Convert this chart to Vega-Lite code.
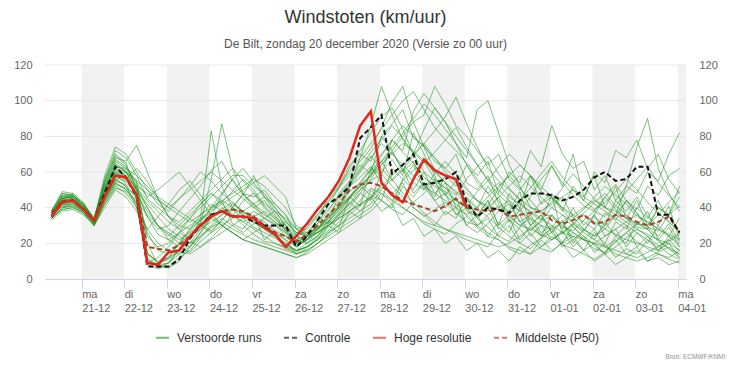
{
  "$schema": "https://vega.github.io/schema/vega-lite/v6.json",
  "width": 641,
  "height": 214,
  "autosize": {"type": "none"},
  "padding": {"left": 45, "top": 65, "right": 46, "bottom": 87},
  "background": "#ffffff",
  "config": {
    "view": {"stroke": null},
    "font": "Liberation Sans",
    "axis": {"labelFont": "Liberation Sans", "labelFontSize": 11, "labelColor": "#666666"}
  },
  "title": {
    "text": "Windstoten (km/uur)",
    "subtitle": "De Bilt, zondag 20 december 2020 (Versie zo 00 uur)",
    "anchor": "middle",
    "font": "Liberation Sans",
    "fontSize": 18,
    "fontWeight": "normal",
    "color": "#333333",
    "subtitleFont": "Liberation Sans",
    "subtitleFontSize": 12,
    "subtitleColor": "#555555",
    "subtitlePadding": 12,
    "offset": 9
  },
  "datasets": {
    "bands": [
      {"s": "2020-12-21T00:00Z", "e": "2020-12-22T00:00Z"},
      {"s": "2020-12-23T00:00Z", "e": "2020-12-24T00:00Z"},
      {"s": "2020-12-25T00:00Z", "e": "2020-12-26T00:00Z"},
      {"s": "2020-12-27T00:00Z", "e": "2020-12-28T00:00Z"},
      {"s": "2020-12-29T00:00Z", "e": "2020-12-30T00:00Z"},
      {"s": "2020-12-31T00:00Z", "e": "2021-01-01T00:00Z"},
      {"s": "2021-01-02T00:00Z", "e": "2021-01-03T00:00Z"},
      {"s": "2021-01-04T00:00Z", "e": "2021-01-05T00:00Z"}
    ],
    "grid": [{"g": 20}, {"g": 40}, {"g": 60}, {"g": 80}, {"g": 100}, {"g": 120}],
    "ens": [
      {"t":"2020-12-20T07:00Z","c":35,"h":35,"p":37,"m1":36,"m2":34,"m3":38,"m4":35,"m5":37,"m6":36,"m7":34,"m8":35,"m9":38,"m10":36,"m11":33,"m12":37,"m13":35,"m14":36,"m15":38,"m16":35,"m17":37,"m18":34,"m19":36,"m20":38,"m21":35,"m22":36,"m23":37,"m24":34,"m25":36,"m26":35,"m27":37,"m28":35,"m29":36,"m30":34},
      {"t":"2020-12-20T13:00Z","c":43,"h":43,"p":44,"m1":44,"m2":40,"m3":48,"m4":42,"m5":46,"m6":45,"m7":39,"m8":43,"m9":47,"m10":44,"m11":38,"m12":45,"m13":41,"m14":44,"m15":49,"m16":42,"m17":46,"m18":40,"m19":43,"m20":48,"m21":43,"m22":45,"m23":47,"m24":39,"m25":44,"m26":42,"m27":46,"m28":41,"m29":45,"m30":40},
      {"t":"2020-12-20T19:00Z","c":44,"h":44,"p":44,"m1":45,"m2":42,"m3":47,"m4":44,"m5":46,"m6":48,"m7":40,"m8":44,"m9":46,"m10":43,"m11":39,"m12":46,"m13":42,"m14":45,"m15":48,"m16":43,"m17":45,"m18":41,"m19":44,"m20":47,"m21":44,"m22":46,"m23":47,"m24":40,"m25":45,"m26":42,"m27":46,"m28":43,"m29":47,"m30":41},
      {"t":"2020-12-21T01:00Z","c":39,"h":39,"p":39,"m1":40,"m2":38,"m3":42,"m4":39,"m5":41,"m6":43,"m7":37,"m8":40,"m9":40,"m10":39,"m11":36,"m12":41,"m13":38,"m14":40,"m15":42,"m16":39,"m17":41,"m18":37,"m19":40,"m20":42,"m21":39,"m22":41,"m23":42,"m24":37,"m25":40,"m26":38,"m27":42,"m28":39,"m29":42,"m30":38},
      {"t":"2020-12-21T07:00Z","c":33,"h":33,"p":33,"m1":33,"m2":31,"m3":33,"m4":32,"m5":34,"m6":33,"m7":30,"m8":32,"m9":34,"m10":32,"m11":30,"m12":33,"m13":31,"m14":32,"m15":34,"m16":31,"m17":33,"m18":30,"m19":32,"m20":34,"m21":32,"m22":33,"m23":34,"m24":30,"m25":33,"m26":31,"m27":33,"m28":31,"m29":32,"m30":31},
      {"t":"2020-12-21T13:00Z","c":48,"h":46,"p":47,"m1":50,"m2":45,"m3":55,"m4":48,"m5":52,"m6":58,"m7":42,"m8":47,"m9":54,"m10":46,"m11":40,"m12":50,"m13":44,"m14":49,"m15":56,"m16":46,"m17":51,"m18":43,"m19":48,"m20":53,"m21":47,"m22":50,"m23":55,"m24":42,"m25":49,"m26":45,"m27":52,"m28":46,"m29":51,"m30":44},
      {"t":"2020-12-21T19:00Z","c":63,"h":58,"p":58,"m1":62,"m2":55,"m3":70,"m4":60,"m5":66,"m6":74,"m7":52,"m8":58,"m9":68,"m10":56,"m11":50,"m12":64,"m13":54,"m14":61,"m15":72,"m16":57,"m17":63,"m18":53,"m19":59,"m20":67,"m21":58,"m22":62,"m23":69,"m24":51,"m25":60,"m26":55,"m27":65,"m28":56,"m29":63,"m30":54},
      {"t":"2020-12-22T01:00Z","c":57,"h":57,"p":57,"m1":58,"m2":60,"m3":65,"m4":56,"m5":62,"m6":70,"m7":48,"m8":54,"m9":66,"m10":52,"m11":46,"m12":60,"m13":50,"m14":57,"m15":68,"m16":55,"m17":61,"m18":51,"m19":57,"m20":63,"m21":56,"m22":60,"m23":64,"m24":49,"m25":58,"m26":53,"m27":60,"m28":52,"m29":62,"m30":50},
      {"t":"2020-12-22T07:00Z","c":46,"h":47,"p":47,"m1":45,"m2":52,"m3":50,"m4":62,"m5":55,"m6":60,"m7":40,"m8":48,"m9":75,"m10":42,"m11":38,"m12":50,"m13":44,"m14":48,"m15":58,"m16":50,"m17":53,"m18":47,"m19":46,"m20":54,"m21":52,"m22":49,"m23":50,"m24":42,"m25":51,"m26":45,"m27":55,"m28":40,"m29":58,"m30":43},
      {"t":"2020-12-22T13:00Z","c":7,"h":9,"p":18,"m1":14,"m2":40,"m3":10,"m4":55,"m5":15,"m6":50,"m7":12,"m8":35,"m9":60,"m10":11,"m11":28,"m12":40,"m13":9,"m14":26,"m15":45,"m16":42,"m17":20,"m18":38,"m19":14,"m20":46,"m21":48,"m22":24,"m23":35,"m24":8,"m25":44,"m26":10,"m27":50,"m28":28,"m29":52,"m30":36},
      {"t":"2020-12-22T19:00Z","c":7,"h":8,"p":17,"m1":9,"m2":30,"m3":7,"m4":45,"m5":9,"m6":42,"m7":6,"m8":28,"m9":45,"m10":8,"m11":35,"m12":30,"m13":12,"m14":16,"m15":40,"m16":35,"m17":8,"m18":30,"m19":10,"m20":50,"m21":44,"m22":18,"m23":25,"m24":6,"m25":38,"m26":8,"m27":45,"m28":20,"m29":46,"m30":30},
      {"t":"2020-12-23T01:00Z","c":7,"h":15,"p":16,"m1":12,"m2":25,"m3":9,"m4":35,"m5":11,"m6":38,"m7":7,"m8":30,"m9":35,"m10":9,"m11":42,"m12":22,"m13":18,"m14":14,"m15":35,"m16":28,"m17":6,"m18":24,"m19":12,"m20":55,"m21":40,"m22":20,"m23":22,"m24":9,"m25":32,"m26":12,"m27":40,"m28":16,"m29":42,"m30":26},
      {"t":"2020-12-23T07:00Z","c":11,"h":16,"p":19,"m1":20,"m2":20,"m3":17,"m4":28,"m5":16,"m6":45,"m7":12,"m8":38,"m9":30,"m10":14,"m11":50,"m12":18,"m13":26,"m14":20,"m15":32,"m16":24,"m17":10,"m18":30,"m19":16,"m20":60,"m21":36,"m22":26,"m23":26,"m24":16,"m25":28,"m26":20,"m27":45,"m28":14,"m29":38,"m30":22},
      {"t":"2020-12-23T13:00Z","c":23,"h":24,"p":24,"m1":28,"m2":18,"m3":24,"m4":22,"m5":21,"m6":52,"m7":16,"m8":45,"m9":28,"m10":20,"m11":55,"m12":15,"m13":22,"m14":27,"m15":38,"m16":20,"m17":18,"m18":36,"m19":24,"m20":52,"m21":32,"m22":34,"m23":30,"m24":14,"m25":34,"m26":24,"m27":50,"m28":18,"m29":34,"m30":26},
      {"t":"2020-12-23T19:00Z","c":30,"h":30,"p":30,"m1":36,"m2":26,"m3":31,"m4":31,"m5":18,"m6":60,"m7":23,"m8":52,"m9":33,"m10":28,"m11":47,"m12":21,"m13":34,"m14":33,"m15":44,"m16":24,"m17":26,"m18":42,"m19":32,"m20":44,"m21":36,"m22":42,"m23":34,"m24":18,"m25":40,"m26":28,"m27":55,"m28":24,"m29":30,"m30":30},
      {"t":"2020-12-24T01:00Z","c":36,"h":35,"p":36,"m1":42,"m2":35,"m3":27,"m4":56,"m5":23,"m6":55,"m7":29,"m8":61,"m9":39,"m10":35,"m11":40,"m12":26,"m13":83,"m14":37,"m15":50,"m16":29,"m17":34,"m18":48,"m19":40,"m20":36,"m21":40,"m22":48,"m23":38,"m24":22,"m25":46,"m26":32,"m27":60,"m28":30,"m29":26,"m30":34},
      {"t":"2020-12-24T07:00Z","c":38,"h":38,"p":38,"m1":38,"m2":47,"m3":33,"m4":87,"m5":29,"m6":48,"m7":32,"m8":66,"m9":43,"m10":39,"m11":44,"m12":33,"m13":52,"m14":30,"m15":56,"m16":34,"m17":40,"m18":44,"m19":48,"m20":30,"m21":44,"m22":42,"m23":42,"m24":26,"m25":52,"m26":36,"m27":55,"m28":36,"m29":30,"m30":30},
      {"t":"2020-12-24T13:00Z","c":35,"h":35,"p":39,"m1":35,"m2":56,"m3":39,"m4":62,"m5":36,"m6":43,"m7":28,"m8":55,"m9":49,"m10":43,"m11":31,"m12":40,"m13":40,"m14":26,"m15":62,"m16":30,"m17":36,"m18":40,"m19":56,"m20":26,"m21":48,"m22":36,"m23":46,"m24":30,"m25":58,"m26":40,"m27":50,"m28":42,"m29":34,"m30":26},
      {"t":"2020-12-24T19:00Z","c":35,"h":35,"p":38,"m1":44,"m2":48,"m3":34,"m4":48,"m5":30,"m6":37,"m7":25,"m8":47,"m9":56,"m10":38,"m11":28,"m12":48,"m13":47,"m14":22,"m15":55,"m16":26,"m17":32,"m18":36,"m19":62,"m20":22,"m21":52,"m22":32,"m23":50,"m24":34,"m25":58,"m26":36,"m27":45,"m28":38,"m29":38,"m30":22},
      {"t":"2020-12-25T01:00Z","c":32,"h":34,"p":35,"m1":48,"m2":42,"m3":29,"m4":40,"m5":25,"m6":35,"m7":22,"m8":42,"m9":50,"m10":33,"m11":36,"m12":46,"m13":58,"m14":20,"m15":48,"m16":31,"m17":35,"m18":32,"m19":54,"m20":26,"m21":56,"m22":28,"m23":54,"m24":38,"m25":52,"m26":32,"m27":40,"m28":34,"m29":42,"m30":20},
      {"t":"2020-12-25T07:00Z","c":30,"h":29,"p":30,"m1":40,"m2":34,"m3":26,"m4":44,"m5":21,"m6":32,"m7":20,"m8":37,"m9":41,"m10":28,"m11":22,"m12":50,"m13":46,"m14":18,"m15":42,"m16":34,"m17":38,"m18":28,"m19":46,"m20":30,"m21":52,"m22":24,"m23":58,"m24":34,"m25":48,"m26":28,"m27":36,"m28":30,"m29":46,"m30":18},
      {"t":"2020-12-25T13:00Z","c":30,"h":25,"p":26,"m1":34,"m2":31,"m3":23,"m4":36,"m5":20,"m6":27,"m7":18,"m8":32,"m9":35,"m10":24,"m11":27,"m12":42,"m13":40,"m14":16,"m15":38,"m16":38,"m17":34,"m18":30,"m19":38,"m20":26,"m21":46,"m22":20,"m23":52,"m24":30,"m25":40,"m26":24,"m27":32,"m28":26,"m29":42,"m30":16},
      {"t":"2020-12-25T19:00Z","c":30,"h":18,"p":24,"m1":27,"m2":24,"m3":19,"m4":27,"m5":17,"m6":24,"m7":16,"m8":26,"m9":30,"m10":20,"m11":18,"m12":36,"m13":33,"m14":14,"m15":34,"m16":30,"m17":28,"m18":32,"m19":30,"m20":22,"m21":40,"m22":18,"m23":46,"m24":26,"m25":32,"m26":20,"m27":28,"m28":22,"m29":36,"m30":14},
      {"t":"2020-12-26T01:00Z","c":18,"h":24,"p":21,"m1":20,"m2":18,"m3":16,"m4":22,"m5":15,"m6":20,"m7":14,"m8":18,"m9":25,"m10":16,"m11":14,"m12":28,"m13":26,"m14":12,"m15":28,"m16":22,"m17":20,"m18":26,"m19":22,"m20":18,"m21":30,"m22":16,"m23":28,"m24":20,"m25":26,"m26":16,"m27":24,"m28":14,"m29":24,"m30":12},
      {"t":"2020-12-26T07:00Z","c":24,"h":31,"p":25,"m1":25,"m2":22,"m3":20,"m4":29,"m5":18,"m6":24,"m7":16,"m8":22,"m9":26,"m10":18,"m11":17,"m12":25,"m13":28,"m14":15,"m15":30,"m16":24,"m17":22,"m18":24,"m19":20,"m20":22,"m21":26,"m22":18,"m23":24,"m24":22,"m25":24,"m26":18,"m27":22,"m28":16,"m29":20,"m30":14},
      {"t":"2020-12-26T13:00Z","c":33,"h":39,"p":30,"m1":33,"m2":28,"m3":27,"m4":36,"m5":22,"m6":31,"m7":20,"m8":31,"m9":33,"m10":24,"m11":23,"m12":29,"m13":35,"m14":20,"m15":36,"m16":29,"m17":28,"m18":26,"m19":24,"m20":28,"m21":28,"m22":22,"m23":26,"m24":26,"m25":28,"m26":22,"m27":26,"m28":20,"m29":24,"m30":18},
      {"t":"2020-12-26T19:00Z","c":42,"h":46,"p":36,"m1":46,"m2":36,"m3":35,"m4":43,"m5":29,"m6":38,"m7":25,"m8":41,"m9":39,"m10":31,"m11":27,"m12":32,"m13":31,"m14":26,"m15":44,"m16":34,"m17":36,"m18":30,"m19":33,"m20":34,"m21":32,"m22":26,"m23":30,"m24":30,"m25":34,"m26":30,"m27":32,"m28":24,"m29":30,"m30":22},
      {"t":"2020-12-27T01:00Z","c":46,"h":55,"p":42,"m1":52,"m2":41,"m3":40,"m4":51,"m5":36,"m6":47,"m7":30,"m8":51,"m9":46,"m10":37,"m11":35,"m12":39,"m13":48,"m14":32,"m15":52,"m16":41,"m17":44,"m18":34,"m19":29,"m20":40,"m21":40,"m22":30,"m23":36,"m24":34,"m25":40,"m26":26,"m27":38,"m28":28,"m29":36,"m30":26},
      {"t":"2020-12-27T07:00Z","c":52,"h":68,"p":50,"m1":64,"m2":52,"m3":49,"m4":58,"m5":43,"m6":54,"m7":36,"m8":62,"m9":53,"m10":45,"m11":40,"m12":45,"m13":55,"m14":38,"m15":60,"m16":46,"m17":52,"m18":38,"m19":46,"m20":46,"m21":52,"m22":34,"m23":42,"m24":38,"m25":46,"m26":38,"m27":46,"m28":32,"m29":42,"m30":30},
      {"t":"2020-12-27T13:00Z","c":79,"h":86,"p":53,"m1":70,"m2":57,"m3":54,"m4":66,"m5":38,"m6":62,"m7":41,"m8":72,"m9":61,"m10":50,"m11":48,"m12":53,"m13":64,"m14":44,"m15":68,"m16":52,"m17":60,"m18":42,"m19":41,"m20":52,"m21":68,"m22":38,"m23":48,"m24":42,"m25":52,"m26":34,"m27":54,"m28":36,"m29":50,"m30":34},
      {"t":"2020-12-27T19:00Z","c":85,"h":94,"p":54,"m1":66,"m2":63,"m3":61,"m4":73,"m5":46,"m6":71,"m7":45,"m8":82,"m9":69,"m10":55,"m11":44,"m12":58,"m13":59,"m14":51,"m15":76,"m16":47,"m17":68,"m18":46,"m19":62,"m20":58,"m21":86,"m22":42,"m23":56,"m24":46,"m25":58,"m26":50,"m27":62,"m28":40,"m29":58,"m30":38},
      {"t":"2020-12-28T01:00Z","c":92,"h":54,"p":52,"m1":80,"m2":54,"m3":66,"m4":85,"m5":53,"m6":78,"m7":51,"m8":91,"m9":62,"m10":59,"m11":60,"m12":69,"m13":80,"m14":48,"m15":84,"m16":44,"m17":76,"m18":52,"m19":58,"m20":66,"m21":108,"m22":50,"m23":64,"m24":38,"m25":64,"m26":44,"m27":70,"m28":48,"m29":66,"m30":44},
      {"t":"2020-12-28T07:00Z","c":59,"h":47,"p":48,"m1":72,"m2":47,"m3":71,"m4":99,"m5":47,"m6":86,"m7":56,"m8":96,"m9":55,"m10":52,"m11":67,"m12":78,"m13":87,"m14":44,"m15":92,"m16":39,"m17":70,"m18":58,"m19":78,"m20":56,"m21":92,"m22":44,"m23":72,"m24":42,"m25":70,"m26":62,"m27":78,"m28":42,"m29":74,"m30":40},
      {"t":"2020-12-28T13:00Z","c":64,"h":43,"p":44,"m1":60,"m2":55,"m3":62,"m4":108,"m5":40,"m6":79,"m7":48,"m8":84,"m9":61,"m10":46,"m11":58,"m12":71,"m13":95,"m14":40,"m15":100,"m16":36,"m17":64,"m18":64,"m19":72,"m20":62,"m21":78,"m22":54,"m23":80,"m24":30,"m25":76,"m26":56,"m27":86,"m28":56,"m29":82,"m30":52},
      {"t":"2020-12-28T19:00Z","c":70,"h":56,"p":42,"m1":66,"m2":61,"m3":54,"m4":88,"m5":36,"m6":71,"m7":43,"m8":70,"m9":69,"m10":40,"m11":82,"m12":65,"m13":79,"m14":36,"m15":105,"m16":43,"m17":58,"m18":70,"m19":94,"m20":48,"m21":70,"m22":40,"m23":88,"m24":34,"m25":72,"m26":64,"m27":80,"m28":50,"m29":90,"m30":46},
      {"t":"2020-12-29T01:00Z","c":53,"h":67,"p":40,"m1":52,"m2":66,"m3":50,"m4":74,"m5":31,"m6":65,"m7":37,"m8":60,"m9":76,"m10":35,"m11":70,"m12":57,"m13":75,"m14":32,"m15":95,"m16":48,"m17":52,"m18":76,"m19":104,"m20":54,"m21":84,"m22":36,"m23":92,"m24":24,"m25":66,"m26":50,"m27":74,"m28":60,"m29":98,"m30":54},
      {"t":"2020-12-29T07:00Z","c":54,"h":61,"p":38,"m1":44,"m2":56,"m3":59,"m4":61,"m5":28,"m6":71,"m7":32,"m8":55,"m9":83,"m10":39,"m11":58,"m12":52,"m13":66,"m14":30,"m15":85,"m16":54,"m17":48,"m18":68,"m19":96,"m20":46,"m21":96,"m22":30,"m23":108,"m24":28,"m25":60,"m26":56,"m27":68,"m28":48,"m29":92,"m30":44},
      {"t":"2020-12-29T13:00Z","c":56,"h":58,"p":41,"m1":36,"m2":51,"m3":66,"m4":54,"m5":25,"m6":78,"m7":28,"m8":51,"m9":91,"m10":43,"m11":47,"m12":49,"m13":62,"m14":28,"m15":78,"m16":47,"m17":44,"m18":60,"m19":88,"m20":58,"m21":88,"m22":38,"m23":98,"m24":20,"m25":54,"m26":40,"m27":62,"m28":54,"m29":84,"m30":48},
      {"t":"2020-12-29T19:00Z","c":60,"h":56,"p":45,"m1":40,"m2":44,"m3":59,"m4":49,"m5":31,"m6":85,"m7":25,"m8":47,"m9":102,"m10":37,"m11":55,"m12":44,"m13":70,"m14":26,"m15":72,"m16":42,"m17":40,"m18":54,"m19":80,"m20":52,"m21":76,"m22":34,"m23":86,"m24":24,"m25":48,"m26":46,"m27":56,"m28":40,"m29":76,"m30":36},
      {"t":"2020-12-30T01:00Z","c":43,"h":40,"p":40,"m1":30,"m2":40,"m3":51,"m4":45,"m5":35,"m6":74,"m7":22,"m8":56,"m9":87,"m10":32,"m11":38,"m12":41,"m13":54,"m14":24,"m15":65,"m16":36,"m17":36,"m18":48,"m19":72,"m20":64,"m21":64,"m22":46,"m23":80,"m24":16,"m25":42,"m26":30,"m27":50,"m28":46,"m29":68,"m30":40},
      {"t":"2020-12-30T07:00Z","c":35,"p":39,"m1":26,"m2":34,"m3":44,"m4":39,"m5":29,"m6":64,"m7":20,"m8":63,"m9":74,"m10":30,"m11":35,"m12":49,"m13":50,"m14":22,"m15":58,"m16":30,"m17":40,"m18":44,"m19":64,"m20":54,"m21":56,"m22":40,"m23":72,"m24":20,"m25":36,"m26":36,"m27":44,"m28":34,"m29":95,"m30":30},
      {"t":"2020-12-30T13:00Z","c":40,"p":38,"m1":31,"m2":29,"m3":41,"m4":35,"m5":24,"m6":55,"m7":18,"m8":69,"m9":62,"m10":36,"m11":44,"m12":55,"m13":58,"m14":20,"m15":66,"m16":26,"m17":46,"m18":38,"m19":56,"m20":48,"m21":48,"m22":52,"m23":64,"m24":12,"m25":44,"m26":24,"m27":40,"m28":40,"m29":100,"m30":34},
      {"t":"2020-12-30T19:00Z","c":39,"p":39,"m1":38,"m2":24,"m3":51,"m4":29,"m5":22,"m6":47,"m7":26,"m8":59,"m9":55,"m10":41,"m11":30,"m12":63,"m13":42,"m14":18,"m15":48,"m16":22,"m17":52,"m18":46,"m19":50,"m20":40,"m21":54,"m22":44,"m23":70,"m24":16,"m25":30,"m26":32,"m27":46,"m28":28,"m29":82,"m30":24},
      {"t":"2020-12-31T01:00Z","c":37,"p":35,"m1":42,"m2":21,"m3":58,"m4":24,"m5":17,"m6":42,"m7":33,"m8":51,"m9":50,"m10":35,"m11":36,"m12":70,"m13":38,"m14":20,"m15":60,"m16":18,"m17":58,"m18":32,"m19":44,"m20":44,"m21":46,"m22":36,"m23":56,"m24":10,"m25":48,"m26":26,"m27":52,"m28":34,"m29":64,"m30":30},
      {"t":"2020-12-31T07:00Z","c":44,"p":36,"m1":32,"m2":29,"m3":51,"m4":20,"m5":14,"m6":38,"m7":28,"m8":44,"m9":45,"m10":30,"m11":43,"m12":64,"m13":49,"m14":24,"m15":54,"m16":16,"m17":64,"m18":36,"m19":38,"m20":32,"m21":42,"m22":30,"m23":50,"m24":18,"m25":40,"m26":40,"m27":58,"m28":22,"m29":52,"m30":20},
      {"t":"2020-12-31T13:00Z","c":48,"p":37,"m1":27,"m2":36,"m3":44,"m4":17,"m5":19,"m6":46,"m7":21,"m8":51,"m9":40,"m10":28,"m11":37,"m12":58,"m13":30,"m14":28,"m15":72,"m16":14,"m17":58,"m18":24,"m19":34,"m20":36,"m21":38,"m22":34,"m23":58,"m24":14,"m25":58,"m26":30,"m27":52,"m28":30,"m29":40,"m30":26},
      {"t":"2020-12-31T19:00Z","c":48,"p":38,"m1":33,"m2":43,"m3":37,"m4":23,"m5":23,"m6":56,"m7":17,"m8":59,"m9":38,"m10":25,"m11":33,"m12":49,"m13":36,"m14":32,"m15":63,"m16":18,"m17":52,"m18":30,"m19":30,"m20":26,"m21":34,"m22":24,"m23":42,"m24":22,"m25":50,"m26":36,"m27":46,"m28":24,"m29":38,"m30":18},
      {"t":"2021-01-01T01:00Z","c":47,"p":33,"m1":40,"m2":48,"m3":35,"m4":29,"m5":26,"m6":63,"m7":15,"m8":66,"m9":43,"m10":22,"m11":47,"m12":45,"m13":26,"m14":36,"m15":86,"m16":22,"m17":46,"m18":22,"m19":28,"m20":30,"m21":30,"m22":28,"m23":46,"m24":16,"m25":64,"m26":26,"m27":40,"m28":36,"m29":42,"m30":24},
      {"t":"2021-01-01T07:00Z","c":44,"p":31,"m1":46,"m2":39,"m3":29,"m4":36,"m5":19,"m6":54,"m7":21,"m8":57,"m9":51,"m10":26,"m11":25,"m12":40,"m13":33,"m14":30,"m15":70,"m16":26,"m17":40,"m18":27,"m19":32,"m20":20,"m21":26,"m22":18,"m23":38,"m24":20,"m25":52,"m26":32,"m27":36,"m28":28,"m29":46,"m30":20},
      {"t":"2021-01-01T13:00Z","c":46,"p":33,"m1":35,"m2":31,"m3":27,"m4":29,"m5":17,"m6":47,"m7":26,"m8":50,"m9":59,"m10":31,"m11":31,"m12":34,"m13":22,"m14":26,"m15":62,"m16":31,"m17":36,"m18":18,"m19":36,"m20":24,"m21":24,"m22":22,"m23":52,"m24":12,"m25":70,"m26":20,"m27":32,"m28":40,"m29":50,"m30":30},
      {"t":"2021-01-01T19:00Z","c":50,"p":36,"m1":28,"m2":27,"m3":33,"m4":24,"m5":14,"m6":41,"m7":22,"m8":44,"m9":52,"m10":36,"m11":37,"m12":39,"m13":27,"m14":22,"m15":66,"m16":26,"m17":32,"m18":24,"m19":40,"m20":16,"m21":22,"m22":16,"m23":44,"m24":16,"m25":46,"m26":28,"m27":28,"m28":30,"m29":46,"m30":22},
      {"t":"2021-01-02T01:00Z","c":57,"p":31,"m1":24,"m2":36,"m3":38,"m4":19,"m5":11,"m6":38,"m7":17,"m8":39,"m9":45,"m10":32,"m11":43,"m12":46,"m13":35,"m14":20,"m15":50,"m16":22,"m17":28,"m18":15,"m19":44,"m20":20,"m21":20,"m22":26,"m23":60,"m24":10,"m25":58,"m26":22,"m27":24,"m28":36,"m29":42,"m30":28},
      {"t":"2021-01-02T07:00Z","c":60,"p":32,"m1":30,"m2":46,"m3":46,"m4":14,"m5":15,"m6":35,"m7":15,"m8":43,"m9":40,"m10":28,"m11":48,"m12":52,"m13":30,"m14":18,"m15":58,"m16":18,"m17":37,"m18":20,"m19":40,"m20":14,"m21":24,"m22":20,"m23":54,"m24":14,"m25":40,"m26":32,"m27":28,"m28":24,"m29":38,"m30":18},
      {"t":"2021-01-02T13:00Z","c":55,"p":36,"m1":36,"m2":53,"m3":39,"m4":18,"m5":21,"m6":41,"m7":21,"m8":49,"m9":38,"m10":25,"m11":41,"m12":47,"m13":44,"m14":16,"m15":44,"m16":14,"m17":33,"m18":12,"m19":36,"m20":24,"m21":28,"m22":32,"m23":72,"m24":8,"m25":52,"m26":24,"m27":36,"m28":28,"m29":34,"m30":22},
      {"t":"2021-01-02T19:00Z","c":56,"p":35,"m1":44,"m2":44,"m3":34,"m4":23,"m5":26,"m6":49,"m7":26,"m8":56,"m9":34,"m10":22,"m11":36,"m12":42,"m13":38,"m14":14,"m15":52,"m16":12,"m17":44,"m18":17,"m19":32,"m20":20,"m21":32,"m22":28,"m23":68,"m24":12,"m25":34,"m26":30,"m27":52,"m28":18,"m29":30,"m30":14},
      {"t":"2021-01-03T01:00Z","c":63,"p":32,"m1":37,"m2":37,"m3":29,"m4":28,"m5":21,"m6":56,"m7":31,"m8":50,"m9":31,"m10":20,"m11":30,"m12":35,"m13":46,"m14":12,"m15":48,"m16":10,"m17":39,"m18":14,"m19":28,"m20":32,"m21":36,"m22":40,"m23":78,"m24":16,"m25":44,"m26":18,"m27":74,"m28":26,"m29":26,"m30":18},
      {"t":"2021-01-03T07:00Z","c":63,"p":30,"m1":29,"m2":29,"m3":28,"m4":24,"m5":17,"m6":63,"m7":28,"m8":43,"m9":30,"m10":18,"m11":38,"m12":32,"m13":35,"m14":15,"m15":60,"m16":12,"m17":52,"m18":22,"m19":25,"m20":28,"m21":32,"m22":34,"m23":62,"m24":10,"m25":30,"m26":24,"m27":90,"m28":20,"m29":22,"m30":10},
      {"t":"2021-01-03T13:00Z","c":36,"p":32,"m1":24,"m2":27,"m3":21,"m4":19,"m5":14,"m6":54,"m7":22,"m8":37,"m9":36,"m10":16,"m11":22,"m12":28,"m13":30,"m14":18,"m15":55,"m16":15,"m17":47,"m18":16,"m19":22,"m20":40,"m21":28,"m22":44,"m23":70,"m24":12,"m25":40,"m26":16,"m27":62,"m28":30,"m29":18,"m30":14},
      {"t":"2021-01-03T19:00Z","c":36,"p":35,"m1":31,"m2":36,"m3":17,"m4":14,"m5":11,"m6":47,"m7":17,"m8":32,"m9":43,"m10":21,"m11":29,"m12":25,"m13":41,"m14":22,"m15":70,"m16":18,"m17":58,"m18":24,"m19":20,"m20":36,"m21":24,"m22":32,"m23":56,"m24":8,"m25":36,"m26":20,"m27":48,"m28":24,"m29":22,"m30":12},
      {"t":"2021-01-04T01:00Z","c":26,"p":26,"m1":21,"m2":41,"m3":14,"m4":11,"m5":9,"m6":40,"m7":12,"m8":27,"m9":49,"m10":25,"m11":18,"m12":22,"m13":22,"m14":16,"m15":82,"m16":14,"m17":62,"m18":18,"m19":16,"m20":46,"m21":20,"m22":26,"m23":48,"m24":10,"m25":52,"m26":12,"m27":38,"m28":34,"m29":26,"m30":16}
    ]
  },
  "layer": [
    {
      "data": {"name": "bands"},
      "mark": {"type": "rect", "color": "#f2f2f2", "clip": true},
      "encoding": {
        "x": {
          "field": "s", "type": "temporal", "title": "Bron: ECMWF/KNMI",
          "scale": {"type": "utc", "domain": [{"year": 2020, "month": 12, "date": 20, "hours": 3, "minutes": 20, "utc": true}, {"year": 2021, "month": 1, "date": 4, "hours": 4, "minutes": 40, "utc": true}]},
          "axis": {
            "values": [
              {"year": 2020, "month": 12, "date": 21, "utc": true},
              {"year": 2020, "month": 12, "date": 22, "utc": true},
              {"year": 2020, "month": 12, "date": 23, "utc": true},
              {"year": 2020, "month": 12, "date": 24, "utc": true},
              {"year": 2020, "month": 12, "date": 25, "utc": true},
              {"year": 2020, "month": 12, "date": 26, "utc": true},
              {"year": 2020, "month": 12, "date": 27, "utc": true},
              {"year": 2020, "month": 12, "date": 28, "utc": true},
              {"year": 2020, "month": 12, "date": 29, "utc": true},
              {"year": 2020, "month": 12, "date": 30, "utc": true},
              {"year": 2020, "month": 12, "date": 31, "utc": true},
              {"year": 2021, "month": 1, "date": 1, "utc": true},
              {"year": 2021, "month": 1, "date": 2, "utc": true},
              {"year": 2021, "month": 1, "date": 3, "utc": true},
              {"year": 2021, "month": 1, "date": 4, "utc": true}
            ],
            "labelExpr": "[['zo','ma','di','wo','do','vr','za'][utcday(datum.value)], utcFormat(datum.value, '%d-%m')]",
            "labelAlign": "left",
            "labelBaseline": "top",
            "labelPadding": 0,
            "labelLineHeight": 14,
            "labelFontSize": 11,
            "labelColor": "#666666",
            "labelOverlap": false,
            "labelFlush": false,
            "labelBound": false,
            "tickSize": 9,
            "tickColor": "#ccd6eb",
            "domainColor": "#ccd6eb",
            "grid": false,
            "titleFont": "Liberation Sans",
            "titleFontSize": 6.5,
            "titleColor": "#909090",
            "titleFontWeight": "normal",
            "titleAnchor": "end",
            "titleAlign": "right",
            "titleBaseline": "alphabetic",
            "titleX": 680,
            "titleY": 79
          }
        },
        "x2": {"field": "e"}
      }
    },
    {
      "data": {"name": "grid"},
      "mark": {"type": "rule", "color": "#e6e6e6", "strokeWidth": 1},
      "encoding": {
        "y": {"field": "g", "type": "quantitative", "scale": {"domain": [0, 120], "nice": false}, "axis": null}
      }
    },
    {
      "data": {"name": "ens"},
      "transform": [{"fold": ["m1","m2","m3","m4","m5","m6","m7","m8","m9","m10","m11","m12","m13","m14","m15","m16","m17","m18","m19","m20","m21","m22","m23","m24","m25","m26","m27","m28","m29","m30"], "as": ["run", "v"]}],
      "mark": {"type": "line", "strokeWidth": 1, "opacity": 0.65},
      "encoding": {
        "x": {"field": "t", "type": "temporal", "title": "Bron: ECMWF/KNMI", "scale": {"type": "utc"}},
        "y": {
          "field": "v", "type": "quantitative",
          "scale": {"domain": [0, 120], "nice": false},
          "axis": {"orient": "left", "values": [0, 20, 40, 60, 80, 100, 120], "domain": false, "ticks": false, "tickSize": 0, "grid": false, "labelPadding": 13, "title": null, "labelFontSize": 11, "labelColor": "#666666"}
        },
        "detail": {"field": "run"},
        "strokeDash": {
          "datum": "Verstoorde runs",
          "scale": {"domain": ["Verstoorde runs", "Controle", "Hoge resolutie", "Middelste (P50)"], "range": [[1, 0], [5, 3], [1, 0], [5, 3]]},
          "legend": null
        },
        "color": {
          "datum": "Verstoorde runs",
          "scale": {"domain": ["Verstoorde runs", "Controle", "Hoge resolutie", "Middelste (P50)"], "range": ["#2a962a", "#111111", "#e3261c", "#a8412a"]},
          "legend": {
            "orient": "none", "legendX": 110, "legendY": 265, "direction": "horizontal", "title": null,
            "symbolType": "stroke", "symbolSize": 169, "symbolStrokeWidth": 2,
            "labelFont": "Liberation Sans", "labelFontSize": 12, "labelColor": "#333333", "labelOffset": 7, "columnPadding": 18
          }
        }
      }
    },
    {
      "data": {"name": "ens"},
      "mark": {"type": "line", "strokeWidth": 2},
      "encoding": {
        "x": {"field": "t", "type": "temporal", "title": "Bron: ECMWF/KNMI", "scale": {"type": "utc"}},
        "y": {"field": "p", "type": "quantitative", "scale": {"domain": [0, 120], "nice": false}, "axis": null},
        "strokeDash": {"datum": "Middelste (P50)"},
        "color": {"datum": "Middelste (P50)"}
      }
    },
    {
      "data": {"name": "ens"},
      "mark": {"type": "line", "strokeWidth": 2},
      "encoding": {
        "x": {"field": "t", "type": "temporal", "title": "Bron: ECMWF/KNMI", "scale": {"type": "utc"}},
        "y": {"field": "c", "type": "quantitative", "scale": {"domain": [0, 120], "nice": false}, "axis": null},
        "strokeDash": {"datum": "Controle"},
        "color": {"datum": "Controle"}
      }
    },
    {
      "data": {"name": "ens"},
      "mark": {"type": "line", "strokeWidth": 2.5},
      "encoding": {
        "x": {"field": "t", "type": "temporal", "title": "Bron: ECMWF/KNMI", "scale": {"type": "utc"}},
        "y": {
          "field": "h", "type": "quantitative",
          "scale": {"domain": [0, 120], "nice": false},
          "axis": {"orient": "right", "values": [0, 20, 40, 60, 80, 100, 120], "domain": false, "ticks": false, "tickSize": 0, "grid": false, "labelPadding": 13, "title": null, "labelFontSize": 11, "labelColor": "#666666"}
        },
        "strokeDash": {"datum": "Hoge resolutie"},
        "color": {"datum": "Hoge resolutie"}
      }
    }
  ],
  "resolve": {"scale": {"y": "independent"}}
}
